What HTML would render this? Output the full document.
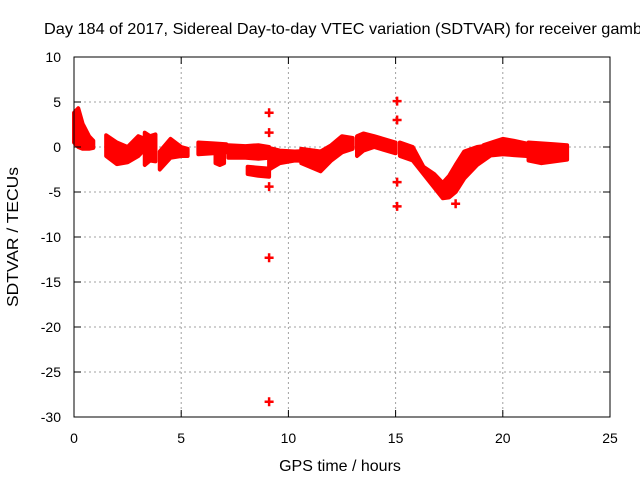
<!DOCTYPE html>
<html><head><meta charset="utf-8"><style>
html,body{margin:0;padding:0;background:#fff}
svg{display:block;font-family:"Liberation Sans",sans-serif}
</style></head><body>
<svg id="c" width="640" height="480" xmlns="http://www.w3.org/2000/svg">
<text x="44" y="34" font-size="16" textLength="598" lengthAdjust="spacingAndGlyphs" fill="#000">Day 184 of 2017, Sidereal Day-to-day VTEC variation (SDTVAR) for receiver gamb</text>
<text x="340" y="471" font-size="16" text-anchor="middle">GPS time / hours</text>
<text transform="translate(18,237) rotate(-90)" font-size="16" text-anchor="middle" textLength="140" lengthAdjust="spacingAndGlyphs">SDTVAR / TECUs</text>
<g id="grid"></g><g id="marks"></g><g id="axes"></g>
</svg>
<script>
const xTicks=[0,5,10,15,20,25];
const yTicks=[10,5,0,-5,-10,-15,-20,-25,-30];
const segHours=[[0,0.2,0.4,0.7,0.9],[1.5,2.0,2.5,3.0,3.2],[3.3,3.55,3.8],[4.0,4.5,5.0,5.3],[5.8,6.5,7.1],[6.6,6.8,7.0],[7.2,8.0,8.6,9.1],[8.1,8.6,9.1],[9.1,9.6,10.3,11.2],[10.6,11.5,12.0,12.5,13.0],[13.2,13.5,14.0,15.0],[15.2,15.8,16.3,16.8,17.2,17.5,17.8,18.2,18.8,19.4],[19.1,19.6,20.0,20.5,21.1],[21.2,21.8,22.4,23.0]];
const segHi=[[3.8,4.3,2.6,1.2,0.7],[1.3,0.5,0,1.2,1.0],[1.6,1.2,1.4],[-0.5,0.9,0,-0.2],[0.5,0.4,0.3],[-0.8,-0.8,-0.9],[0.2,0.1,0.2,0.0],[-2.2,-2.3,-2.4],[-0.1,-0.4,-0.5,-0.4],[-0.2,-0.5,0.2,1.2,1.0],[1.2,1.5,1.2,0.5],[0.5,0,-2.2,-3,-4,-3.2,-2,-0.5,0,0.2],[0.2,0.6,0.9,0.7,0.4],[0.5,0.4,0.3,0.2]];
const segLo=[[0.5,0,-0.2,-0.2,-0.1],[-1,-1.9,-1.7,-1.0,-0.5],[-2,-1.5,-1.6],[-2.5,-1.2,-1.0,-1.0],[-0.8,-0.7,-0.6],[-1.8,-2.0,-1.8],[-1.2,-1.2,-1.3,-1.2],[-3.0,-3.2,-3.3],[-2.5,-1.8,-1.5,-1.6],[-1.8,-2.7,-1.5,-0.6,-0.2],[-1.0,-0.4,0,-0.7],[-1,-1.5,-3,-4.5,-5.7,-5.6,-5.0,-3.5,-2,-1],[-1.0,-0.9,-0.8,-0.9,-1.0],[-1.5,-1.8,-1.6,-1.4]];
const outHours=[9.1,9.1,9.1,9.1,9.1,15.07,15.07,15.07,15.07,17.8];
const outVals=[3.8,1.6,-4.4,-12.3,-28.3,5.1,3.0,-3.9,-6.6,-6.3];
const X=h=>74+h*(536/25), Y=v=>57+(10-v)*9;
const NS="http://www.w3.org/2000/svg";
function mk(t,a,p){const e=document.createElementNS(NS,t);for(const k in a)e.setAttribute(k,a[k]);p.appendChild(e);return e;}
const grid=document.getElementById('grid'),axes=document.getElementById('axes'),marks=document.getElementById('marks');
xTicks.forEach(t=>{
 if(t>0&&t<25){const l=mk('line',{x1:X(t),x2:X(t),y1:57,y2:417,stroke:'#a0a0a0','stroke-dasharray':'2,3'},grid);
 }
 mk('line',{x1:X(t),x2:X(t),y1:417,y2:410,stroke:'#000'},axes);mk('line',{x1:X(t),x2:X(t),y1:57,y2:64,stroke:'#000'},axes);
 const tx=mk('text',{x:X(t),y:443,'font-size':14,'text-anchor':'middle'},axes);tx.textContent=t;
 
});
yTicks.forEach(t=>{
 if(t<10&&t>-30){const l=mk('line',{x1:74,x2:610,y1:Y(t),y2:Y(t),stroke:'#a0a0a0','stroke-dasharray':'2,3'},grid);
 }
 mk('line',{x1:74,x2:81,y1:Y(t),y2:Y(t),stroke:'#000'},axes);mk('line',{x1:610,x2:603,y1:Y(t),y2:Y(t),stroke:'#000'},axes);
 const tx=mk('text',{x:61,y:Y(t)+5,'font-size':14,'text-anchor':'end'},axes);tx.textContent=t;
 
});
const fr=mk('rect',{x:74,y:57,width:536,height:360,fill:'none',stroke:'#000'},axes);

segHours.forEach((hs,i)=>{
 const pts=hs.map((h,j)=>X(h)+','+Y(segHi[i][j])).concat(hs.slice().reverse().map((h,j)=>X(h)+','+Y(segLo[i][hs.length-1-j])));
 const p=mk('polygon',{points:pts.join(' '),fill:'#f00',stroke:'#f00','stroke-width':4,'stroke-linejoin':'round'},marks);
 
});
outHours.forEach((h,i)=>{
 const x=X(h),y=Y(outVals[i]);
 const p=mk('path',{d:`M${x-4.5},${y}H${x+4.5}M${x},${y-4.5}V${y+4.5}`,stroke:'#f00','stroke-width':2.5},marks);
 
});
</script>
</body></html>
